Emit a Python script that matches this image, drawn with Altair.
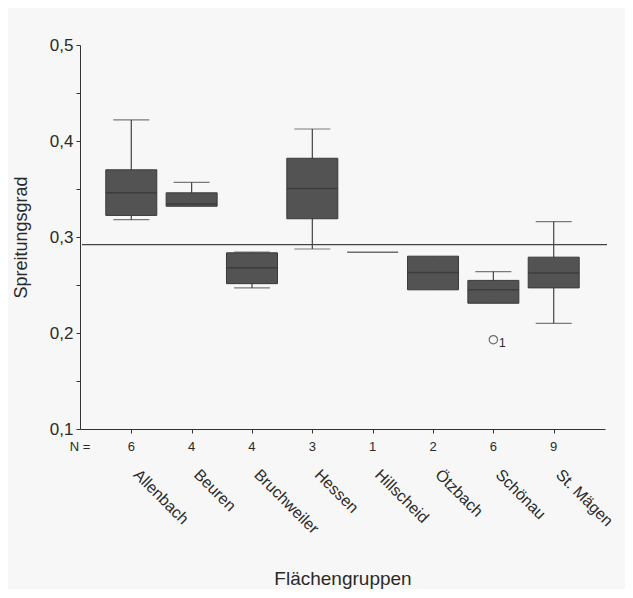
import altair as alt
import pandas as pd

# ---- data ----
groups = ["Allenbach", "Beuren", "Bruchweiler", "Hessen", "Hillscheid", "Ötzbach", "Schönau", "St. Mägen"]
n_counts = [6, 4, 4, 3, 1, 2, 6, 9]
whisker_low = [0.318, 0.332, 0.247, 0.2875, 0.284, 0.245, 0.231, 0.210]
q1 = [0.3225, 0.332, 0.2514, 0.319, 0.284, 0.245, 0.231, 0.247]
median = [0.346, 0.3345, 0.268, 0.3505, 0.284, 0.263, 0.245, 0.2625]
q3 = [0.370, 0.346, 0.2835, 0.382, 0.284, 0.280, 0.2548, 0.279]
whisker_high = [0.422, 0.357, 0.2844, 0.4125, 0.284, 0.280, 0.264, 0.316]

outlier_group = ["Schönau"]
outlier_value = [0.193]
outlier_label = ["1"]

reference_value = [0.292]

y_ticks = [0.1, 0.15, 0.2, 0.25, 0.3, 0.35, 0.4, 0.45, 0.5]

# ---- tables ----
df = pd.DataFrame({
    "group": groups, "n": [str(v) for v in n_counts],
    "lo": whisker_low, "q1": q1, "med": median, "q3": q3, "hi": whisker_high,
})
boxes = df[df["q3"] > df["q1"]]
top_caps = df[df["hi"] > df["q3"]]
low_caps = df[df["lo"] < df["q1"]]
out_df = pd.DataFrame({"group": outlier_group, "value": outlier_value, "label": outlier_label})
ref_df = pd.DataFrame({"value": reference_value})

W, H = 525, 384
FONT = "Liberation Sans"
DARK = "#2a2a2a"

x_enc = alt.X(
    "group:N", sort=groups,
    scale=alt.Scale(type="point", domain=groups, padding=0.85),
    axis=alt.Axis(
        title="Flächengruppen", labelAngle=45, labelAlign="left", labelBaseline="top",
        labelPadding=33, labelOffset=10, tickSize=4, labelFontSize=16, labelColor=DARK, labelFont=FONT,
        titleFont=FONT, titleFontSize=19, titleFontWeight="normal", titleColor=DARK,
        titleY=149, titleBaseline="middle", domainColor="#333", tickColor="#333",
        grid=False, labelFlush=False,
    ),
)
y_scale = alt.Scale(domain=[0.1, 0.5], nice=False, zero=False)
y_enc = alt.Y(
    "lo:Q", scale=y_scale,
    axis=alt.Axis(
        title="Spreitungsgrad", values=y_ticks,
        labelExpr="abs(datum.value*10 - round(datum.value*10)) < 0.01 ? replace(format(datum.value, '.1f'), '.', ',') : ''",
        tickSize=4, labelPadding=3, labelFontSize=17, labelColor=DARK, labelFont=FONT,
        titleFont=FONT, titleFontSize=18, titleFontWeight="normal", titleColor=DARK,
        titleX=-59, titleY=H / 2, titleAngle=270, titleAlign="center", titleBaseline="middle",
        domainColor="#333", tickColor="#333", grid=False,
    ),
)

whiskers = alt.Chart(df).mark_rule(color="#444", strokeWidth=1.2).encode(
    x=x_enc, y=y_enc, y2="hi:Q"
)
caps_hi = alt.Chart(top_caps).mark_tick(color="#444", size=36, thickness=1.2).encode(
    x=alt.X("group:N", sort=groups), y=alt.Y("hi:Q", scale=y_scale)
)
caps_lo = alt.Chart(low_caps).mark_tick(color="#444", size=36, thickness=1.2).encode(
    x=alt.X("group:N", sort=groups), y=alt.Y("lo:Q", scale=y_scale)
)
box = alt.Chart(boxes).mark_bar(size=51, color="#535353", stroke="#3a3a3a", strokeWidth=1).encode(
    x=alt.X("group:N", sort=groups), y=alt.Y("q1:Q", scale=y_scale), y2="q3:Q"
)
med = alt.Chart(df).mark_tick(color="#333", size=51, thickness=1.5).encode(
    x=alt.X("group:N", sort=groups), y=alt.Y("med:Q", scale=y_scale)
)
ref = alt.Chart(ref_df).mark_rule(color="#444", strokeWidth=1.2).encode(
    y=alt.Y("value:Q", scale=y_scale), x=alt.value(2), x2=alt.value(527)
)
outl = alt.Chart(out_df).mark_point(shape="circle", size=70, filled=False, color="#333", strokeWidth=1.2).encode(
    x=alt.X("group:N", sort=groups), y=alt.Y("value:Q", scale=y_scale)
)
outl_lab = alt.Chart(out_df).mark_text(font=FONT, fontSize=12, color=DARK, dx=9, dy=3, align="center").encode(
    x=alt.X("group:N", sort=groups), y=alt.Y("value:Q", scale=y_scale), text="label:N"
)
n_text = alt.Chart(df).mark_text(font=FONT, fontSize=13, color=DARK, baseline="middle").encode(
    x=alt.X("group:N", sort=groups), y=alt.value(H + 18), text="n:N"
)
n_head = alt.Chart(pd.DataFrame({"t": ["N ="]})).mark_text(
    font=FONT, fontSize=13, color=DARK, baseline="middle", align="center"
).encode(x=alt.value(0), y=alt.value(H + 18), text="t:N")

chart = alt.layer(
    whiskers, caps_hi, caps_lo, box, med, ref, outl, outl_lab, n_text, n_head
).properties(
    width=W, height=H,
    autosize=alt.AutoSizeParams(type="none"),
    padding={"left": 72, "top": 37, "right": 20, "bottom": 160},
    background="#f7f7f7",
).configure_view(stroke=None)

chart.save("out.html", embed_options={"renderer": "svg", "actions": False})
